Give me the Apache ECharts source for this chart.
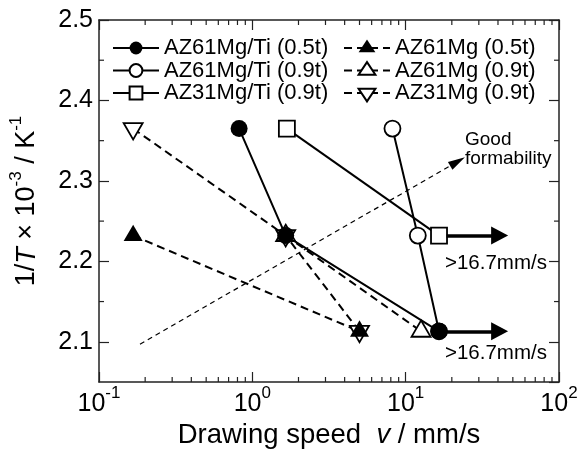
<!DOCTYPE html>
<html>
<head>
<meta charset="utf-8">
<script src="https://cdn.jsdelivr.net/npm/echarts@6/dist/echarts.min.js"></script>
<style>html,body{margin:0;background:#fff}#main{width:587px;height:450px}</style>
</head>
<body>
<div id="main"></div>
<script>
// values (x = drawing speed mm/s, y = 1/T x 10^-3)
var names = ['AZ61Mg/Ti (0.5t)', 'AZ61Mg/Ti (0.9t)', 'AZ31Mg/Ti (0.9t)', 'AZ61Mg (0.5t)', 'AZ61Mg (0.9t)', 'AZ31Mg (0.9t)'];
var az61ti05 = [[0.82, 2.365], [1.65, 2.232], [16.5, 2.113]];
var az61ti09 = [[8.2, 2.365], [12.0, 2.232], [16.5, 2.113]];
var az31ti09 = [[1.68, 2.365], [16.5, 2.232]];
var az61mg05 = [[0.167, 2.232], [5.0, 2.113]];
var az61mg09 = [[1.65, 2.232], [12.6, 2.113]];
var az31mg09 = [[0.167, 2.365], [1.65, 2.232], [5.0, 2.113]];

var xMinor = [0.2, 0.3, 0.4, 0.5, 0.6, 0.7, 0.8, 0.9, 2, 3, 4, 5, 6, 7, 8, 9, 20, 30, 40, 50, 60, 70, 80, 90];
var yMinor = [2.15, 2.25, 2.35, 2.45];
var xRange = [0.1, 100];
var yRange = [2.05, 2.5];

var arrowLines = [[[18.5, 2.232], [41, 2.232]], [[18.5, 2.113], [41, 2.113]]];
var guideLine = [[0.185, 2.097], [21.8, 2.324]];
var notes = ['>16.7mm/s', '>16.7mm/s', 'Good\nformability'];
var notePos = [[17.9, 2.1975], [17.9, 2.0854], [24.2, 2.339]];

var FONT = 'Arial, "Liberation Sans", sans-serif';
// equilateral triangles, centred on their centroid (the dummy point evens out the bounding box)
var TRI_UP = 'path://M0,-2L1.732,1L-1.732,1ZM0,2L0,2';
var TRI_DOWN = 'path://M0,2L1.732,-1L-1.732,-1ZM0,-2L0,-2';
var TRI_SIZE = [19, 21.9];

var chart = echarts.init(document.getElementById('main'), null, {renderer: 'canvas'});

function mk(name, data, symbol, filled, dashed, size) {
  return {
    name: name, type: 'line', data: data, symbol: symbol, symbolSize: size,
    showAllSymbol: true, clip: false,
    lineStyle: {color: '#000', width: 2, type: dashed ? [8, 5] : 'solid'},
    itemStyle: {color: filled ? '#000' : '#fff', borderColor: '#000', borderWidth: filled ? 0 : 1.8, opacity: 1}
  };
}

var axisLine = {show: true, lineStyle: {color: '#222', width: 1.5}};
var axisTick = {show: true, inside: true, length: 10, lineStyle: {color: '#222', width: 1.2}};
var supStyle = {fontSize: 17, fontFamily: FONT, color: '#000', padding: [0, 0, 21, 0]};

function xBase(pos, labels) {
  return {
    type: 'log', logBase: 10, min: xRange[0], max: xRange[1], position: pos,
    axisLine: axisLine, axisTick: axisTick, splitLine: {show: false},
    axisLabel: {
      show: labels, margin: 3, fontSize: 25, fontFamily: FONT, color: '#000',
      formatter: function (v) { return '10{sup|' + Math.round(Math.log(v) / Math.LN10) + '}'; },
      rich: {sup: supStyle}
    }
  };
}
function yBase(pos, labels) {
  return {
    type: 'value', min: yRange[0], max: yRange[1], position: pos,
    axisLine: axisLine, axisTick: axisTick, splitLine: {show: false},
    axisLabel: {show: labels, showMinLabel: false, margin: 6, fontSize: 25, fontFamily: FONT, color: '#000',
      formatter: function (v) { return v.toFixed(1); }}
  };
}

var xAxisBottom = xBase('bottom', true);
xAxisBottom.name = 'Drawing speed  {i|v} / mm/s';
xAxisBottom.nameLocation = 'middle';
xAxisBottom.nameGap = 30;
xAxisBottom.nameTextStyle = {fontSize: 27.5, fontFamily: FONT, color: '#000',
  rich: {i: {fontStyle: 'italic', fontSize: 27.5, fontFamily: FONT, color: '#000'}}};

var yAxisLeft = yBase('left', true);
yAxisLeft.name = '1/{i|T} \u00d7 10{sup|-3} / K{sup|-1}';
yAxisLeft.nameLocation = 'middle';
yAxisLeft.nameGap = 53;
yAxisLeft.nameTextStyle = {fontSize: 27, fontFamily: FONT, color: '#000',
  rich: {i: {fontStyle: 'italic', fontSize: 27, fontFamily: FONT, color: '#000'}, sup: supStyle}};

var minorX = {
  name: 'minorX', type: 'custom', silent: true, clip: false, z: 1,
  data: xMinor.map(function (v) { return [v, yRange[0]]; }),
  renderItem: function (params, api) {
    var b = api.coord([api.value(0), yRange[0]]);
    var t = api.coord([api.value(0), yRange[1]]);
    var st = {stroke: '#222', lineWidth: 1.2};
    return {type: 'group', children: [
      {type: 'line', shape: {x1: b[0], y1: b[1], x2: b[0], y2: b[1] - 5}, style: st},
      {type: 'line', shape: {x1: t[0], y1: t[1], x2: t[0], y2: t[1] + 5}, style: st}
    ]};
  }
};
var minorY = {
  name: 'minorY', type: 'custom', silent: true, clip: false, z: 1,
  data: yMinor.map(function (v) { return [xRange[0], v]; }),
  renderItem: function (params, api) {
    var l = api.coord([xRange[0], api.value(1)]);
    var r = api.coord([xRange[1], api.value(1)]);
    var st = {stroke: '#222', lineWidth: 1.2};
    return {type: 'group', children: [
      {type: 'line', shape: {x1: l[0], y1: l[1], x2: l[0] + 5, y2: l[1]}, style: st},
      {type: 'line', shape: {x1: r[0], y1: r[1], x2: r[0] - 5, y2: r[1]}, style: st}
    ]};
  }
};

var marks = {
  name: 'marks', type: 'line', data: [], silent: true, z: 1,
  markLine: {
    silent: true, animation: false, label: {show: false},
    data: [
      [{coord: arrowLines[0][0], symbol: 'none', lineStyle: {color: '#000', width: 3.5, type: 'solid'}},
       {coord: arrowLines[0][1], symbol: 'triangle', symbolSize: [18, 17]}],
      [{coord: arrowLines[1][0], symbol: 'none', lineStyle: {color: '#000', width: 3.5, type: 'solid'}},
       {coord: arrowLines[1][1], symbol: 'triangle', symbolSize: [18, 17]}],
      [{coord: guideLine[0], symbol: 'none', lineStyle: {color: '#000', width: 1.2, type: [5, 4]}},
       {coord: guideLine[1], symbol: 'triangle', symbolSize: [9, 17]}]
    ]
  },
  markPoint: {
    silent: true, animation: false, symbol: 'circle', symbolSize: 1, itemStyle: {color: 'rgba(0,0,0,0)'},
    label: {show: true, position: 'right', distance: 0, color: '#000', fontFamily: FONT, fontSize: 20.5, lineHeight: 20,
      formatter: function (p) { return p.name; }},
    data: notes.map(function (t, k) {
      return {name: t, coord: notePos[k], label: k === 2 ? {fontSize: 19, lineHeight: 19} : {}};
    })
  }
};

var legendCommon = {
  orient: 'vertical', top: 37, padding: 0, itemWidth: 46, itemHeight: 16, itemGap: 0.5,
  selectedMode: false, textStyle: {fontSize: 22, fontFamily: FONT, color: '#000', lineHeight: 22}
};

var option = {
  backgroundColor: '#fff',
  animation: false,
  grid: {left: 99, right: 28, top: 20, bottom: 68, outerBoundsMode: 'none'},
  legend: [
    echarts.util.merge({left: 112, data: names.slice(0, 3)}, legendCommon),
    echarts.util.merge({left: 343, data: names.slice(3), itemHeight: 21}, legendCommon)
  ],
  xAxis: [xAxisBottom, xBase('top', false)],
  yAxis: [yAxisLeft, yBase('right', false)],
  series: [
    minorX, minorY, marks,
    mk(names[5], az31mg09, TRI_DOWN, false, true, TRI_SIZE),
    mk(names[4], az61mg09, TRI_UP, false, true, TRI_SIZE),
    mk(names[3], az61mg05, TRI_UP, true, true, TRI_SIZE),
    mk(names[1], az61ti09, 'circle', false, false, 16),
    mk(names[2], az31ti09, 'rect', false, false, 16),
    mk(names[0], az61ti05, 'circle', true, false, 17)
  ]
};
chart.setOption(option);
</script>
</body>
</html>
